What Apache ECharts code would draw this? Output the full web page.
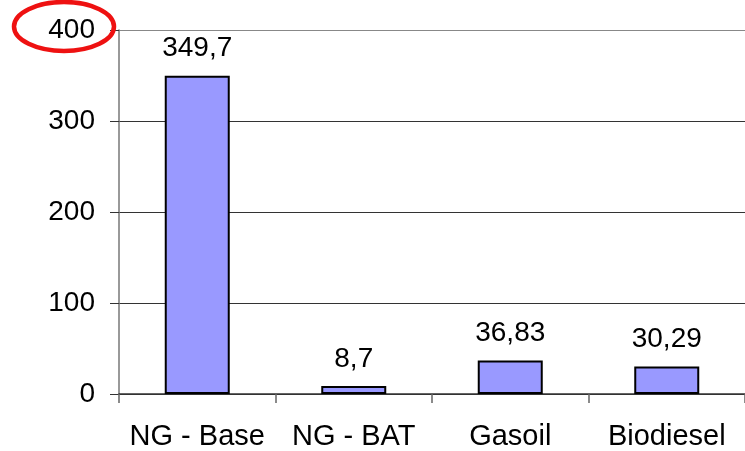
<!DOCTYPE html>
<html><head><meta charset="utf-8">
<script src="https://cdn.jsdelivr.net/npm/echarts@6/dist/echarts.min.js"></script>
<style>html,body{margin:0;padding:0;background:#fff}#c{width:745px;height:451px}</style>
</head><body><div id="c"></div>
<script>
const categories = ['NG - Base', 'NG - BAT', 'Gasoil', 'Biodiesel'];
const values = [349.7, 8.7, 36.83, 30.29];
const yTicks = [0, 100, 200, 300, 400];

const font = 'Liberation Sans, Arial, sans-serif';
const chart = echarts.init(document.getElementById('c'), null, {renderer: 'canvas'});
chart.setOption({
  backgroundColor: '#ffffff',
  animation: false,
  grid: {left: 119, top: 30, bottom: 56, right: -4, containLabel: false},
  xAxis: {
    type: 'category', data: categories,
    axisLine: {lineStyle: {color: '#333', width: 1.5}},
    axisTick: {show: true, length: 9, lineStyle: {color: '#666', width: 1.5}},
    axisLabel: {color: '#000', fontSize: 29, fontFamily: font, margin: 28, interval: 0}
  },
  yAxis: {
    type: 'value', min: yTicks[0], max: yTicks[yTicks.length - 1], interval: 100,
    axisLine: {show: true, lineStyle: {color: '#777', width: 1.5}},
    axisTick: {show: true, length: 9, lineStyle: {color: '#333'}},
    axisLabel: {color: '#000', fontSize: 28, fontFamily: font, margin: 24},
    splitLine: {lineStyle: {color: ['#333', '#333', '#333', '#333', '#888'], width: 1}}
  },
  series: [{
    type: 'bar', data: values, barWidth: 65,
    itemStyle: {color: '#9999ff', borderColor: '#000', borderWidth: 2},
    label: {show: true, position: 'top', distance: 13, color: '#000', fontSize: 28, fontFamily: font,
      formatter: p => String(p.value).replace('.', ',')}
  }],
  graphic: [{
    type: 'ellipse', shape: {cx: 64, cy: 26.5, rx: 50, ry: 24.5},
    style: {fill: 'none', stroke: '#ee1111', lineWidth: 4.5}, z: 100
  }]
});
</script></body></html>
